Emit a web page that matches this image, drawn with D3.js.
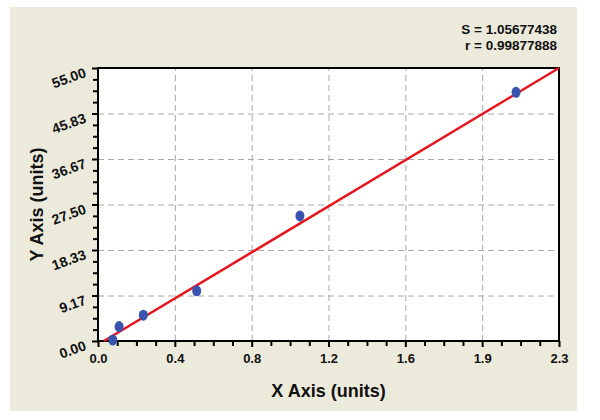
<!DOCTYPE html>
<html>
<head>
<meta charset="utf-8">
<script src="https://cdn.jsdelivr.net/npm/d3@7"></script>
<style>
  body { margin: 0; background: #ffffff; }
  svg { display: block; font-family: "Liberation Sans", Arial, sans-serif; }
</style>
</head>
<body>
<svg id="chart" width="600" height="420"></svg>
<script>
// ---- data ----
const xTickLabels = ["0.0", "0.4", "0.8", "1.2", "1.6", "1.9", "2.3"];
const yTickLabels = ["0.00", "9.17", "18.33", "27.50", "36.67", "45.83", "55.00"];
const xMax = 2.34;
const yMax = 55;
const pointX = [0.075, 0.107, 0.23, 0.501, 1.025, 2.122];
const pointY = [0.2, 2.9, 5.2, 10.1, 25.2, 50.1];
const fitX = [0.03, 2.34];
const fitY = [0, 55];
const statLines = ["S = 1.05677438", "r = 0.99877888"];
const xTitle = "X Axis (units)";
const yTitle = "Y Axis (units)";

// ---- layout ----
const svg = d3.select("#chart");
const m = { left: 98, right: 559, top: 68, bottom: 341 };
const W = m.right - m.left, H = m.bottom - m.top;

svg.append("rect").attr("x", 10).attr("y", 7).attr("width", 567).attr("height", 404)
  .attr("fill", "#ebeadb");

const g = svg.append("g").attr("transform", `translate(${m.left},${m.top})`);
g.append("rect").attr("width", W).attr("height", H).attr("fill", "#ffffff");

const x = d3.scaleLinear().domain([0, xMax]).range([0, W]);
const y = d3.scaleLinear().domain([0, yMax]).range([H, 0]);

const xMajor = d3.range(xTickLabels.length).map(i => i * xMax / (xTickLabels.length - 1));
const yMajor = d3.range(yTickLabels.length).map(i => i * yMax / (yTickLabels.length - 1));
const xMinor = d3.range((xTickLabels.length - 1) * 4 + 1).map(i => i * xMax / ((xTickLabels.length - 1) * 4)).filter((d, i) => i % 4 !== 0);
const yMinor = d3.range((yTickLabels.length - 1) * 4 + 1).map(i => i * yMax / ((yTickLabels.length - 1) * 4)).filter((d, i) => i % 4 !== 0);

// grid
const gx = g.append("g").attr("transform", `translate(0,${H})`)
  .call(d3.axisBottom(x).tickValues(xMajor.slice(1, -1)).tickSize(-H).tickFormat(""));
const gy = g.append("g")
  .call(d3.axisLeft(y).tickValues(yMajor.slice(1, -1)).tickSize(-W).tickFormat(""));
[gx, gy].forEach(a => {
  a.select(".domain").remove();
  a.selectAll("line").attr("stroke", "#a8a8a8").attr("stroke-width", 1).attr("stroke-dasharray", "6,4");
});

// minor ticks
const mx = g.append("g").attr("transform", `translate(0,${H})`)
  .call(d3.axisBottom(x).tickValues(xMinor).tickSize(5).tickFormat(""));
const my = g.append("g")
  .call(d3.axisLeft(y).tickValues(yMinor).tickSize(5).tickFormat(""));
[mx, my].forEach(a => {
  a.select(".domain").remove();
  a.selectAll("line").attr("stroke", "#000").attr("stroke-width", 2);
});

// major axes
const ax = g.append("g").attr("transform", `translate(0,${H})`)
  .call(d3.axisBottom(x).tickValues(xMajor).tickSize(6).tickPadding(7)
    .tickFormat((d, i) => xTickLabels[i]));
const ay = g.append("g")
  .call(d3.axisLeft(y).tickValues(yMajor).tickSize(6)
    .tickFormat((d, i) => yTickLabels[i]));
[ax, ay].forEach(a => {
  a.select(".domain").remove();
  a.selectAll("line").attr("stroke", "#000").attr("stroke-width", 2);
  a.selectAll("text").attr("fill", "#111").attr("font-weight", "bold")
    .attr("font-family", "'Liberation Sans', Arial, sans-serif");
});
ax.selectAll("text").attr("font-size", 13);
ay.selectAll("text").attr("font-size", 14).attr("x", null).attr("dy", null)
  .attr("text-anchor", "end")
  .attr("transform", "translate(-11,8) rotate(-20)");

// frame
g.append("rect").attr("width", W).attr("height", H).attr("fill", "none")
  .attr("stroke", "#000").attr("stroke-width", 2);

// fit line
g.append("path").datum(fitX.map((d, i) => [d, fitY[i]]))
  .attr("d", d3.line().x(d => x(d[0])).y(d => y(d[1])))
  .attr("stroke", "#e8141c").attr("stroke-width", 2.5).attr("fill", "none");

// points
g.selectAll("ellipse.pt").data(pointX.map((d, i) => [d, pointY[i]])).join("ellipse")
  .attr("class", "pt")
  .attr("cx", d => x(d[0])).attr("cy", d => y(d[1]))
  .attr("rx", 4.5).attr("ry", 5.5)
  .attr("fill", "#3853ad");

// stats text
svg.selectAll("text.stat").data(statLines).join("text")
  .attr("class", "stat")
  .attr("x", 557).attr("y", (d, i) => 34 + i * 16)
  .attr("text-anchor", "end").attr("font-size", 13.5).attr("font-weight", "bold")
  .attr("fill", "#111").text(d => d);

// axis titles
svg.append("text").attr("x", (m.left + m.right) / 2).attr("y", 397)
  .attr("text-anchor", "middle").attr("font-size", 18).attr("font-weight", "bold")
  .attr("fill", "#111").text(xTitle);
svg.append("text").attr("transform", `translate(43,${(m.top + m.bottom) / 2}) rotate(-90)`)
  .attr("text-anchor", "middle").attr("font-size", 18).attr("font-weight", "bold")
  .attr("fill", "#111").text(yTitle);
</script>
</body>
</html>
